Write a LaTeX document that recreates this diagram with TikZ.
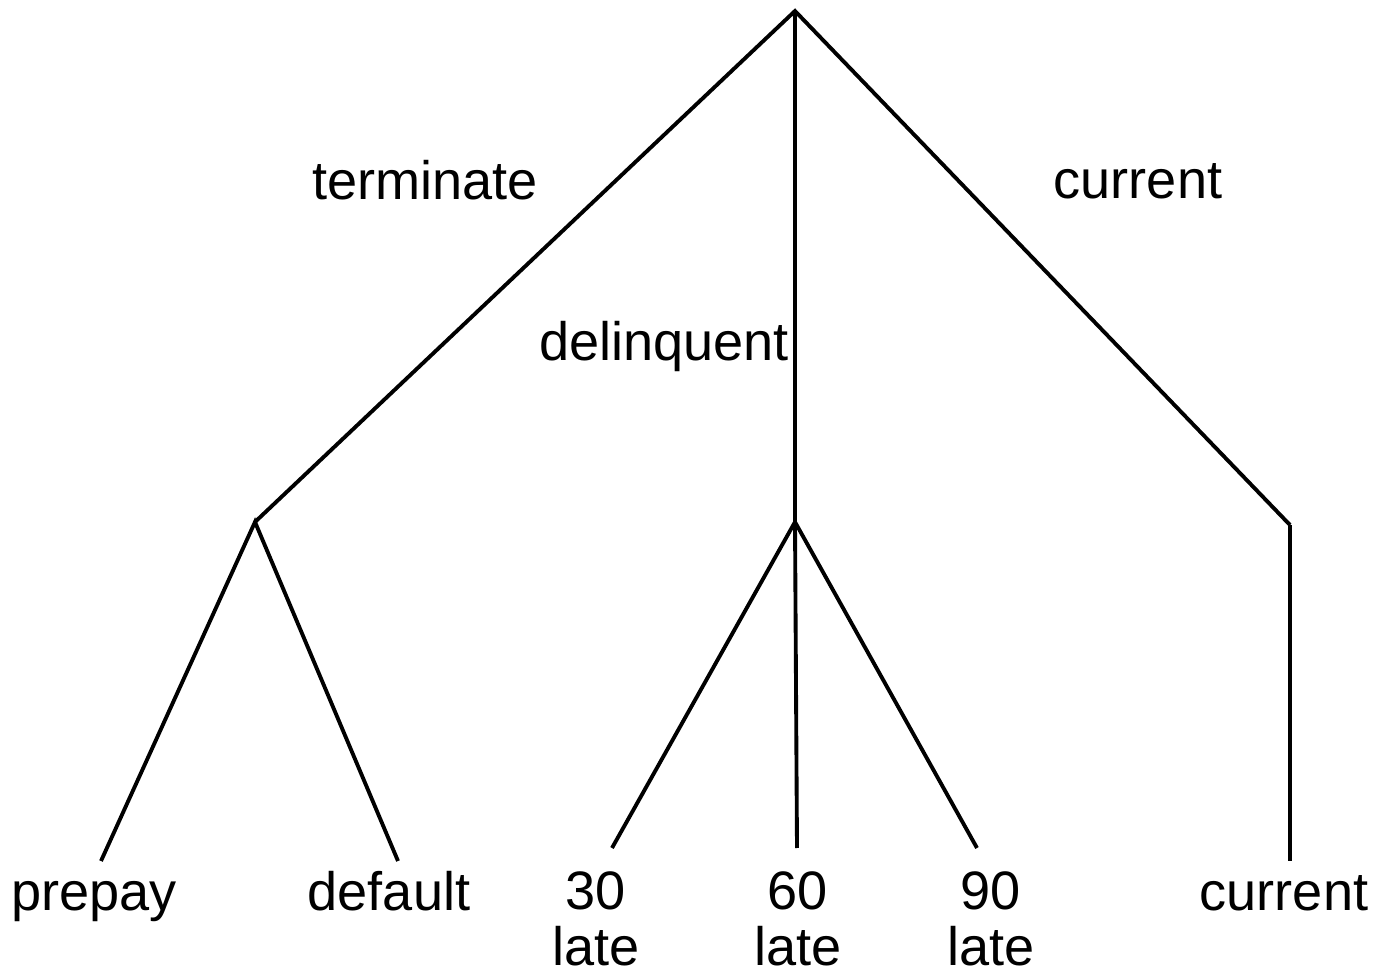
\documentclass[tikz,border=0pt]{standalone}
\usepackage{fontspec}
\setmainfont{Liberation Sans}
\usepackage{tikz}
\usetikzlibrary{positioning}
\tikzset{
    branch/.style={line width=1.1pt, line join=miter},
    label/.style={font=\fontsize{15.4pt}{15.7pt}\selectfont, inner sep=0pt, anchor=base, align=center}
}

\begin{document}
\begin{tikzpicture}
        \useasboundingbox (0, 0) rectangle (13.76, 9.72);

        \coordinate (Root) at (7.95, 9.61);
        \coordinate (Term) at (2.55, 4.50);
        \coordinate (Delq) at (7.95, 4.50);
        \coordinate (Curr) at (12.90, 4.47);

        \coordinate (Prepay_end) at (1.01, 1.11);
        \coordinate (Default_end) at (3.98, 1.11);
        \coordinate (Late30_end) at (6.12, 1.24);
        \coordinate (Late60_end) at (7.97, 1.24);
        \coordinate (Late90_end) at (9.77, 1.24);
        \coordinate (Curr_end) at (12.90, 1.11);

        \node (Term_label) [label] at (4.25, 7.72) {terminate};
        \node (Delq_label) [label] at (6.64, 6.12) {delinquent};
        \node (Curr_label) [label] at (11.38, 7.73) {current};

        \node (Prepay_label) [label] at (0.94, 0.62) {prepay};
        \node (Default_label) [label] at (3.89, 0.62) {default};
        \node (Late30_label) [label] at (5.96, 0.07) {30\\late};
        \node (Late60_label) [label] at (7.98, 0.07) {60\\late};
        \node (Late90_label) [label] at (9.91, 0.07) {90\\late};
        \node (Curr_leaf_label) [label] at (12.84, 0.62) {current};

        % First split
        \draw[branch] (Term) -- (Root) -- (Curr);
        \draw[branch] (Root) -- (Delq);

        % Leaves
        \draw[branch] (Prepay_end) -- (Term) -- (Default_end);
        \draw[branch] (Late30_end) -- (Delq) -- (Late90_end);
        \draw[branch] (Delq) -- (Late60_end);
        \draw[branch] (Curr) -- (Curr_end);

    \end{tikzpicture}
\end{document}
